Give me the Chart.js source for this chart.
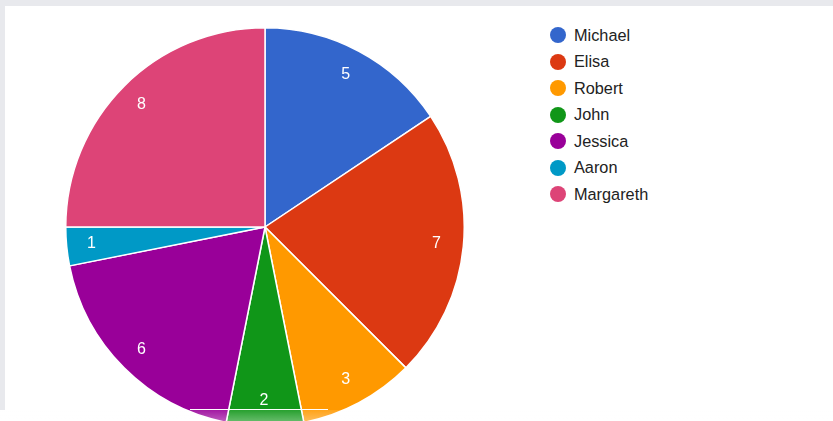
<!DOCTYPE html>
<html>
<head>
<meta charset="utf-8">
<script src="https://cdn.jsdelivr.net/npm/chart.js@4"></script>
<style>
  html, body { margin: 0; padding: 0; }
  body { width: 833px; height: 421px; position: relative; overflow: hidden; background: #fff; font-family: "Liberation Sans", Arial, sans-serif; }
  .strip-top { position: absolute; left: 0; top: 0; width: 833px; height: 6px; background: #e8e9ed; }
  .strip-left { position: absolute; left: 0; top: 0; width: 5px; height: 410px; background: #e8e9ed; }
  #pieWrap { position: absolute; left: 65px; top: 27px; width: 400px; height: 400px; }
  #legend { position: absolute; left: 550px; top: 22px; margin: 0; padding: 0; list-style: none; }
  #legend li { height: 26.5px; display: flex; align-items: center; font-size: 16.3px; color: #222; }
  #legend li span.dot { width: 16px; height: 16px; border-radius: 50%; margin-right: 8px; flex: none; }
  .fade { position: absolute; left: 0; top: 410px; width: 833px; height: 11px; background: linear-gradient(rgba(255,255,255,0.1), rgba(255,255,255,0.35)); }
  .cutline { position: absolute; left: 190px; top: 409px; width: 138px; height: 1px; background: #fff; }
</style>
</head>
<body>
<div class="strip-top"></div>
<div class="strip-left"></div>
<div id="pieWrap"><canvas id="pie"></canvas></div>
<ul id="legend"></ul>
<div class="fade"></div>
<div class="cutline"></div>
<script>
// people and their counts
const names = ['Michael', 'Elisa', 'Robert', 'John', 'Jessica', 'Aaron', 'Margareth'];
const counts = [5, 7, 3, 2, 6, 1, 8];
const colors = ['#3366cc', '#dc3912', '#ff9900', '#109618', '#990099', '#0099c6', '#dd4477'];

// value labels inside each slice
const sliceLabels = {
    id: 'sliceLabels',
    afterDatasetsDraw(chart) {
        const ctx = chart.ctx;
        const meta = chart.getDatasetMeta(0);
        ctx.save();
        ctx.fillStyle = '#ffffff';
        ctx.font = '16px "Liberation Sans", Arial, sans-serif';
        ctx.textAlign = 'center';
        ctx.textBaseline = 'middle';
        meta.data.forEach((arc, i) => {
            const mid = (arc.startAngle + arc.endAngle) / 2;
            const r = arc.outerRadius * 0.87;
            ctx.fillText(String(counts[i]), arc.x + Math.cos(mid) * r - 1, arc.y + Math.sin(mid) * r);
        });
        ctx.restore();
    }
};

const chart = new Chart(document.getElementById('pie').getContext('2d'), {
    type: 'pie',
    data: {
        labels: names,
        datasets: [{
            data: counts,
            backgroundColor: colors,
            borderColor: '#ffffff',
            borderWidth: 1.5
        }]
    },
    options: {
        responsive: true,
        maintainAspectRatio: false,
        animation: false,
        layout: { padding: 0 },
        plugins: {
            legend: { display: false },
            tooltip: { enabled: false }
        }
    },
    plugins: [sliceLabels]
});

// html legend built from the same arrays
const legend = document.getElementById('legend');
names.forEach((name, i) => {
    const li = document.createElement('li');
    const dot = document.createElement('span');
    dot.className = 'dot';
    dot.style.background = colors[i];
    li.appendChild(dot);
    li.appendChild(document.createTextNode(name));
    legend.appendChild(li);
});
</script>
</body>
</html>
